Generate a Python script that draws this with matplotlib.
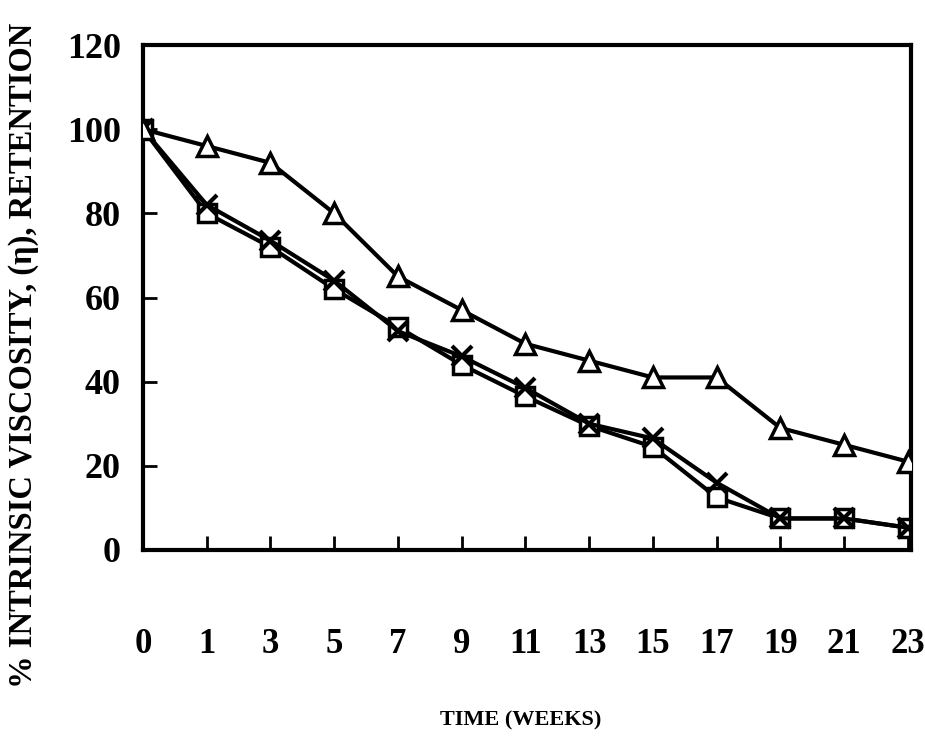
import numpy as np
import matplotlib
matplotlib.use("Agg")
import matplotlib.pyplot as plt

plt.rcParams['font.family'] = ['Liberation Serif', 'DejaVu Serif']
plt.rcParams['font.weight'] = 'bold'

weeks = ["0", "1", "3", "5", "7", "9", "11", "13", "15", "17", "19", "21", "23"]
triangulo = [100, 96, 92, 80, 65, 57, 49, 45, 41, 41, 29, 25, 21]
cuadrado = [100, 80, 72, 62, 53, 44, 36.5, 29.5, 24.5, 12.5, 7.5, 7.5, 5.3]
cruz = [100, 82, 73.5, 64, 52, 46, 38.5, 30, 26.5, 16, 7.5, 7.5, 5.3]

x = np.arange(len(weeks))

fig = plt.figure(figsize=(9.25, 7.36), dpi=100)
ax = fig.add_axes([143/925, 1-550/736, (911-143)/925, (550-45)/736])

ax.plot(x, cuadrado, color="black", lw=3, marker="s", ms=13, mfc="white", mec="black", mew=2.5)
ax.plot(x, cruz, color="black", lw=3, marker="x", ms=15, mec="black", mew=3)
ax.plot(x, triangulo, color="black", lw=3, marker="^", ms=15, mfc="white", mec="black", mew=2.5, zorder=3)

ax.set_xlim(0, 12.05)
ax.set_ylim(0, 120)
ax.set_xticks(x)
ax.set_xticklabels(weeks)
ax.set_yticks(np.arange(0, 121, 20))

for s in ax.spines.values():
    s.set_linewidth(3)

ax.tick_params(axis="x", direction="in", length=10, width=2, pad=56, labelsize=25)
ax.tick_params(axis="y", direction="in", length=10, width=2, pad=16, labelsize=26)

# etiquetas de ejes
fig.text(521/925, 1-720/736, "TIME (WEEKS)", fontsize=16, fontweight="bold", ha="center", va="center")
fig.text(24/925, 1-355/736, "% INTRINSIC VISCOSITY, (η), RETENTION", fontsize=23.5, fontweight="bold",
         rotation=90, ha="center", va="center")

fig.savefig("out.png", dpi=100)
